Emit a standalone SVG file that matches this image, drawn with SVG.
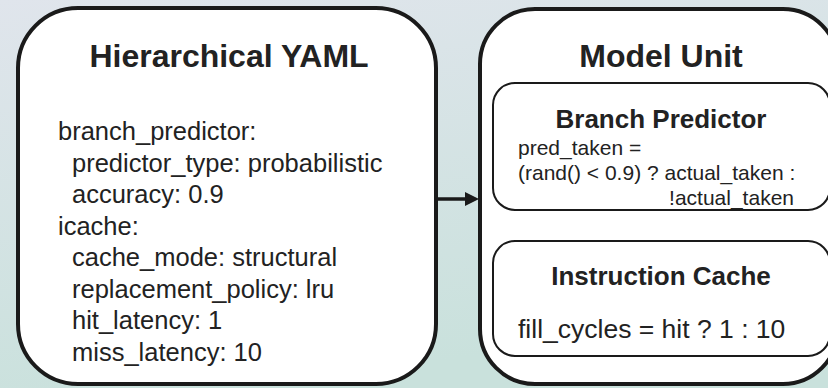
<svg xmlns="http://www.w3.org/2000/svg" width="828" height="388" viewBox="0 0 828 388">
<defs>
<linearGradient id="bg" x1="0" y1="0" x2="0.3" y2="1">
<stop offset="0" stop-color="#e0e5ec"/>
<stop offset="1" stop-color="#c9e1dc"/>
</linearGradient>
<style>
.outer{fill:#fff;stroke:#1a1a1a;stroke-width:4}
.inner{fill:#fff;stroke:#1a1a1a;stroke-width:2}
.t{font-family:"Liberation Sans",Arial,sans-serif;fill:#222}
.title{font-size:32px;font-weight:bold;text-anchor:middle}
.sub{font-size:26px;font-weight:bold;text-anchor:middle}
.body{font-size:25.5px}
.fill{font-size:26.5px}
.code{font-size:21px}
</style>
</defs>
<rect x="0" y="0" width="828" height="388" fill="url(#bg)"/>
<g id="yaml">
<rect class="outer" x="18" y="8" width="418" height="376" rx="60" ry="60"/>
<text class="t title" x="229" y="67">Hierarchical YAML</text>
<text class="t body" x="58" y="140">branch_predictor:</text>
<text class="t body" x="72" y="171.5">predictor_type: probabilistic</text>
<text class="t body" x="72" y="203">accuracy: 0.9</text>
<text class="t body" x="58" y="234.5">icache:</text>
<text class="t body" x="72" y="266">cache_mode: structural</text>
<text class="t body" x="72" y="297.5">replacement_policy: lru</text>
<text class="t body" x="72" y="329">hit_latency: 1</text>
<text class="t body" x="72" y="360.5">miss_latency: 10</text>
</g>
<g id="model">
<rect class="outer" x="480" y="9" width="358" height="375" rx="55" ry="55"/>
<text class="t title" x="661" y="67">Model Unit</text>
</g>
<g id="branch">
<rect class="inner" x="493" y="83" width="337" height="127" rx="22" ry="22"/>
<text class="t sub" x="661" y="128">Branch Predictor</text>
<text class="t code" x="518" y="155">pred_taken =</text>
<text class="t code" x="518" y="180">(rand() &lt; 0.9) ? actual_taken :</text>
<text class="t code" x="794" y="205" text-anchor="end">!actual_taken</text>
</g>
<g id="icache">
<rect class="inner" x="493" y="241" width="337" height="115" rx="22" ry="22"/>
<text class="t sub" x="661" y="285">Instruction Cache</text>
<text class="t fill" x="518" y="338">fill_cycles = hit ? 1 : 10</text>
</g>
<g id="connectors">
<line x1="437" y1="199" x2="466" y2="199" stroke="#1a1a1a" stroke-width="3.5"/>
<polygon points="465,192 479,199 465,206" fill="#1a1a1a"/>
</g>
</svg>
